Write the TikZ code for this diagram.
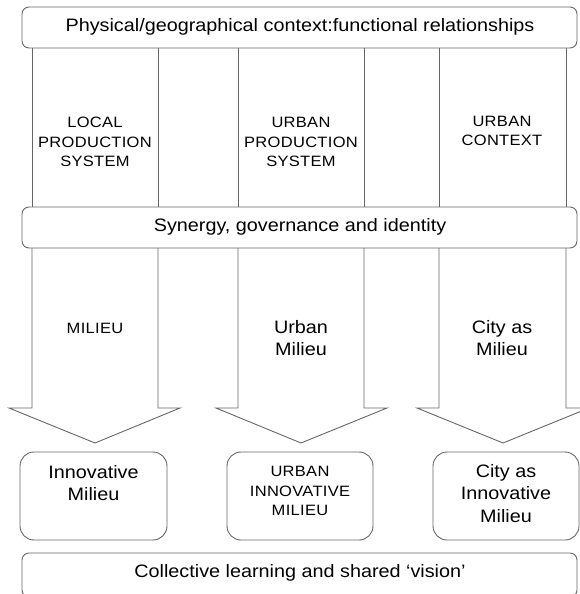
\documentclass[tikz,border=0pt]{standalone}
\usepackage{fontspec}
\setmainfont[FakeStretch=1.1]{Liberation Sans}
\newfontfamily\capsfont[FakeStretch=1.1,LetterSpace=2]{Liberation Sans}
\begin{document}
\begin{tikzpicture}[x=1pt,y=-1pt,
  ln/.style={draw=black!60, line width=0.9pt},
  band/.style={ln, rounded corners=7pt, inner sep=0pt},
  res/.style={ln, rounded corners=14pt, inner sep=0pt},
  txt/.style={align=center, inner sep=0pt, font=\fontsize{18}{22.5}\selectfont},
  capstxt/.style={align=center, inner sep=0pt, font=\capsfont\fontsize{15}{19.5}\selectfont}]
\useasboundingbox (0,0) rectangle (580,594);
\clip (0,0) rectangle (580,594);
% bands
\node[band, minimum width=555pt, minimum height=41pt] (ctx) at (299.5,27.5) {};
\node[txt] (ctxt) at (300,27) {Physical/geographical context:functional relationships};
\node[band, minimum width=555pt, minimum height=41pt] (syn) at (299.5,227.5) {};
\node[txt] (synt) at (300,227) {Synergy, governance and identity};
\node[band, minimum width=555pt, minimum height=44pt] (col) at (299.5,575) {};
\node[txt] (colt) at (300,573) {Collective learning and shared `vision'};
% columns
\draw[ln] (32,48) -- (32,207) (158,48) -- (158,207);
\draw[ln] (238,48) -- (238,207) (364,48) -- (364,207);
\draw[ln] (439,48) -- (439,207) (566,48) -- (566,207);
\node[capstxt] (lps) at (95,142) {LOCAL\\PRODUCTION\\SYSTEM};
\node[capstxt] (ups) at (301,142) {URBAN\\PRODUCTION\\SYSTEM};
\node[capstxt] (uc) at (502,131) {URBAN\\CONTEXT};
% arrows
\draw[ln, line join=miter] (32,248) -- (32,408) -- (9,408) -- (95,443) -- (180,408) -- (158,408) -- (158,248);
\draw[ln, line join=miter] (238,248) -- (238,408) -- (216,408) -- (301,443) -- (387,408) -- (364,408) -- (364,248);
\draw[ln, line join=miter] (439,248) -- (439,408) -- (417,408) -- (503,443) -- (589,408) -- (566,408) -- (566,248);
\node[capstxt] (mil) at (95,328) {MILIEU};
\node[txt] (um) at (301,338) {Urban\\Milieu};
\node[txt] (cm) at (502,338) {City as\\Milieu};
% results
\node[res, minimum width=147pt, minimum height=88pt] (im) at (93.5,496) {};
\node[txt, anchor=north] (imt) at (93.5,465) {Innovative\\Milieu};
\node[res, minimum width=146pt, minimum height=88pt] (uim) at (300,496) {};
\node[capstxt, anchor=north] (uimt) at (300,466) {URBAN\\INNOVATIVE\\MILIEU};
\node[res, minimum width=146pt, minimum height=88pt] (cim) at (506,496) {};
\node[txt, anchor=north] (cimt) at (506,464) {City as\\Innovative\\Milieu};
\end{tikzpicture}
\end{document}
